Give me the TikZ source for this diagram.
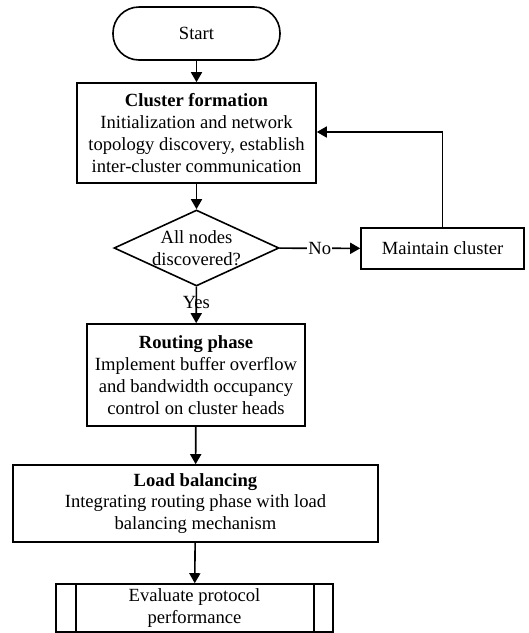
\documentclass[tikz,border=0pt]{standalone}
\usepackage{fontspec}
\setmainfont{Liberation Serif}
\usetikzlibrary{arrows.meta,shapes.geometric,shapes.misc}
\begin{document}
\begin{tikzpicture}[x=1pt,y=1pt,
  every node/.style={font=\fontsize{18.6}{21.8}\selectfont},
  box/.style={draw,line width=1.6pt,rectangle,inner sep=0pt,align=center},
  arr/.style={line width=1.6pt,-{Triangle[length=10pt,width=11pt]}},
  ln/.style={line width=1.6pt}]
\useasboundingbox (0,0) rectangle (529,-633);
\node[box,rounded corners=26pt,minimum width=167pt,minimum height=53pt] (start) at (196.5,-33.5) {Start};
\node[box,minimum width=239pt,minimum height=100pt] (clu) at (196.5,-133) {\textbf{Cluster formation}\\Initialization and network\\topology discovery, establish\\inter-cluster communication};
\node[draw,line width=1.6pt,diamond,inner sep=0pt,aspect=2.17,minimum width=165pt,minimum height=76pt] (dec) at (196.5,-248) {};
\node[align=center,inner sep=0pt] (dect) at (196.5,-248) {All nodes\\discovered?};
\node[box,minimum width=163pt,minimum height=41pt] (mai) at (442.5,-248.5) {Maintain cluster};
\node[box,minimum width=218pt,minimum height=102pt] (rou) at (196,-375) {\textbf{Routing phase}\\Implement buffer overflow\\and bandwidth occupancy\\control on cluster heads};
\node[box,minimum width=365pt,minimum height=77pt] (lod) at (195.5,-503.5) {\textbf{Load balancing}\\Integrating routing phase with load\\balancing mechanism};
\node[box,minimum width=277pt,minimum height=48pt] (eva) at (194.5,-608) {Evaluate protocol\\performance};
\draw[ln] ([xshift=21pt]eva.north west) -- ([xshift=21pt]eva.south west);
\draw[ln] ([xshift=-20pt]eva.north east) -- ([xshift=-20pt]eva.south east);
\draw[arr] (start) -- (clu);
\draw[arr] (clu) -- (dec);
\draw[arr] (dec) -- node[fill=white,inner sep=1pt] (no) {No} (mai);
\draw[arr] (dec) -- (rou) node[pos=0.42,inner sep=0pt] (yes) {Yes};
\coordinate (fb) at (mai.north |- 0,-132);
\draw[arr] (mai.north) -- (fb) -- (clu.east |- fb);
\draw[arr] (rou) -- (lod);
\draw[arr] (lod) -- (eva);
\end{tikzpicture}
\end{document}
